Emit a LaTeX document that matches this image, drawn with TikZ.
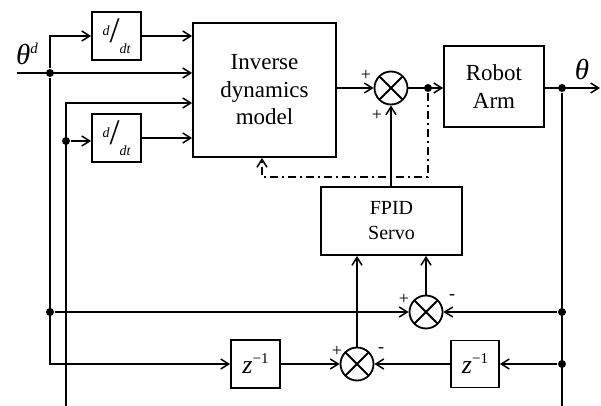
\documentclass[tikz,border=0pt]{standalone}
\usepackage{fontspec}
\setmainfont{Liberation Serif}
\usetikzlibrary{arrows.meta}

\newcommand{\ddtfrac}{\raisebox{7pt}{\fontsize{14}{14}\selectfont\itshape d}{\fontsize{36}{36}\selectfont /}\raisebox{-11pt}{\fontsize{14}{14}\selectfont\itshape dt}}

\begin{document}
\begin{tikzpicture}[x=1pt, y=-1pt, line width=1.5pt, >={Straight Barb[length=8pt,width=10pt]},
    blk/.style = {draw, line width=1.8pt, inner sep=0pt, align=center, font=\fontsize{23}{27.5}\selectfont},
    sum/.style = {draw, circle, line width=1.8pt, minimum size=33pt, inner sep=0pt,
        path picture={\draw[line width=1.8pt] (path picture bounding box.north west) -- (path picture bounding box.south east)
            (path picture bounding box.north east) -- (path picture bounding box.south west);}},
    dot/.style = {circle, fill, minimum size=8pt, inner sep=0pt},
    sgn/.style = {inner sep=0pt, font=\fontsize{18}{18}\selectfont},
    dashdot/.style = {dash pattern=on 8pt off 4pt on 2pt off 4pt}]
    \useasboundingbox (0,0) rectangle (601,406);

    % blocks
    \node[blk, minimum width=49pt, minimum height=48pt] (ddtA) at (116.5,36) {\ddtfrac};
    \node[blk, minimum width=49pt, minimum height=48pt] (ddtB) at (116.5,138) {\ddtfrac};
    \node[blk, minimum width=143pt, minimum height=134pt] (inv) at (264.5,90) {Inverse\\dynamics\\model};
    \node[blk, minimum width=100pt, minimum height=81pt] (robot) at (494,86.5) {Robot\\Arm};
    \node[blk, minimum width=141pt, minimum height=68pt, font=\fontsize{20}{25}\selectfont] (fpid) at (391.5,221) {FPID\\Servo};
    \node[blk, minimum width=49pt, minimum height=48pt] (zA) at (255.5,364) {\fontsize{26}{26}\selectfont\itshape z\raisebox{10pt}{\fontsize{15}{15}\selectfont\upshape −1}};
    \node[blk, minimum width=48pt, minimum height=47pt] (zB) at (475,364) {\fontsize{26}{26}\selectfont\itshape z\raisebox{10pt}{\fontsize{15}{15}\selectfont\upshape −1}};

    % summing junctions
    \node[sum] (sumA) at (391,88) {};
    \node[sum] (sumB) at (426,312) {};
    \node[sum] (sumC) at (357,364) {};

    % branch points
    \node[dot] (jA) at (50,73) {};
    \node[dot] (jB) at (66,141) {};
    \node[dot] (jC) at (428,88) {};
    \node[dot] (jD) at (562,88) {};
    \node[dot] (jE) at (50,312) {};
    \node[dot] (jF) at (562,312) {};
    \node[dot] (jG) at (562,364) {};
    \coordinate (in) at (17,73);
    \coordinate (out) at (600,88);
    \coordinate (tapB) at (66,103);
    \coordinate (botB) at (66,406);
    \coordinate (botD) at (562,406);
    \coordinate (fbA) at (262,177);

    % labels
    \node[inner sep=0pt, font=\fontsize{29}{29}\selectfont\itshape] (thd) at (27,54) {θ\raisebox{11pt}{\fontsize{15}{15}\selectfont d}};
    \node[inner sep=0pt, font=\fontsize{29}{29}\selectfont\itshape] (th) at (582,70) {θ};
    \node[sgn] (pA) at (366,75) {+};
    \node[sgn] (pB) at (377,115) {+};
    \node[sgn] (pC) at (404,299) {+};
    \node[sgn] (mC) at (452,297) {-};
    \node[sgn] (pD) at (337,351) {+};
    \node[sgn] (mD) at (381,350) {-};

    % signal lines
    \draw[->] (in) -- (inv.west |- jA);
    \draw[->] (jA) |- (ddtA.west);
    \draw[->] (ddtA.east) -- (inv.west |- ddtA.east);
    \draw[->] (jA) |- (zA.west);
    \draw[->] (jE) -- (sumB.west);
    \draw[->] (botB) -- (tapB) -- (tapB -| inv.west);
    \draw[->] (jB) -- (ddtB.west |- jB);
    \draw[->] (ddtB.east) -- (inv.west |- ddtB.east);
    \draw[->] (inv.east |- sumA) -- (sumA.west);
    \draw[->] (sumA.east) -- (robot.west |- sumA);
    \draw[->] (robot.east |- jD) -- (out);
    \draw (jD) -- (botD);
    \draw[->] (jF) -- (sumB.east);
    \draw[->] (jG) -- (zB.east);
    \draw[->] (zB.west) -- (sumC.east);
    \draw[->] (zA.east) -- (sumC.west);
    \draw[->] (sumC.north) -- (fpid.south -| sumC);
    \draw[->] (sumB.north) -- (fpid.south -| sumB);
    \draw[->] (fpid.north -| sumA) -- (sumA.south);
    \draw[->, dashdot] (jC) |- (fbA) -- (fbA |- inv.south);
\end{tikzpicture}
\end{document}
